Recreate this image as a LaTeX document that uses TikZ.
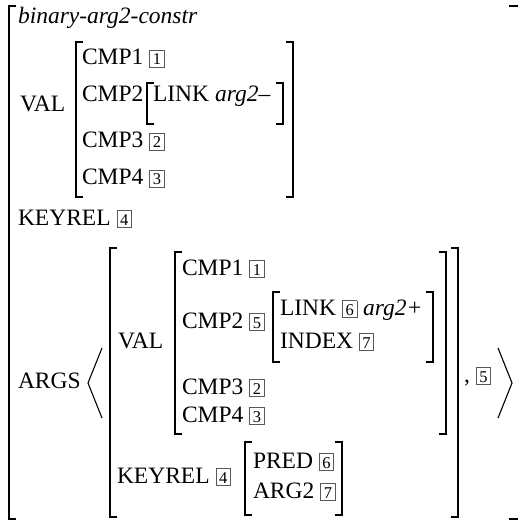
\documentclass[tikz,border=0pt]{standalone}
\usepackage{fontspec}
\setmainfont{Liberation Serif}
\definecolor{tagline}{gray}{0.35}
% boxed coindexation tag
\newcommand{\tagbox}[1]{{\setlength{\fboxsep}{1.6pt}\setlength{\fboxrule}{0.8pt}\fcolorbox{tagline}{white}{\makebox[10.5pt]{\rule[-0.6pt]{0pt}{12.8pt}\fontsize{16.5}{16.5}\selectfont #1}}}}
% square brackets: x, top y, bottom y
\newcommand{\lbrk}[3]{\draw[brk] (#1+7,#2) -- (#1,#2) -- (#1,#3) -- (#1+7,#3);}
\newcommand{\rbrk}[3]{\draw[brk] (#1-7,#2) -- (#1,#2) -- (#1,#3) -- (#1-7,#3);}
\begin{document}
\begin{tikzpicture}[x=1pt,y=-1pt,
  every node/.style={inner sep=0pt, outer sep=0pt, anchor=base west,
    font=\fontsize{23.5}{28}\selectfont},
  brk/.style={line width=1.3pt, line cap=butt, line join=miter},
  angle/.style={line width=1.1pt, line join=miter}]
\useasboundingbox (0,0) rectangle (517,521);

% outer matrix
\lbrk{9}{6}{519}
\draw[brk] (509,6) -- (518,6);
\draw[brk] (509,519) -- (518,519);
\node (type) at (18,24) {\textit{binary-arg2-constr}};

% VAL of the construction
\node (val1) at (20,112) {VAL};
\lbrk{76}{42}{197}
\rbrk{293}{42}{197}
\node (c1a) at (82,65) {CMP1 \tagbox{1}};
\node (c2a) at (82,102) {CMP2};
\lbrk{147}{83}{124}
\node (link1) at (153,102) {LINK \textit{arg2–}};
\rbrk{283}{83}{124}
\node (c3a) at (82,148) {CMP3 \tagbox{2}};
\node (c4a) at (82,185) {CMP4 \tagbox{3}};

\node (key1) at (18,225) {KEYREL \tagbox{4}};

% ARGS list
\node (args) at (18,388) {ARGS};
\draw[angle] (102,348) -- (88,383) -- (102,418);
\lbrk{110}{248}{517}
\rbrk{458}{248}{517}
\node (val2) at (118,348) {VAL};
\lbrk{175}{252}{434}
\rbrk{446}{252}{434}
\node (c1b) at (182,275) {CMP1 \tagbox{1}};
\node (c2b) at (182,328) {CMP2 \tagbox{5}};
\lbrk{273}{292}{362}
\rbrk{433}{292}{362}
\node (link2) at (280,315) {LINK \tagbox{6} \textit{arg2+}};
\node (idx) at (280,348) {INDEX \tagbox{7}};
\node (c3b) at (182,394) {CMP3 \tagbox{2}};
\node (c4b) at (182,422) {CMP4 \tagbox{3}};
\node (key2) at (117,483) {KEYREL \tagbox{4}};
\lbrk{245}{442}{515}
\rbrk{342}{442}{515}
\node (pred) at (253,468) {PRED \tagbox{6}};
\node (arg2) at (253,498) {ARG2 \tagbox{7}};
\node (tail) at (464,382) {, \tagbox{5}};
\draw[angle] (498,348) -- (512,383) -- (498,418);
\end{tikzpicture}
\end{document}
